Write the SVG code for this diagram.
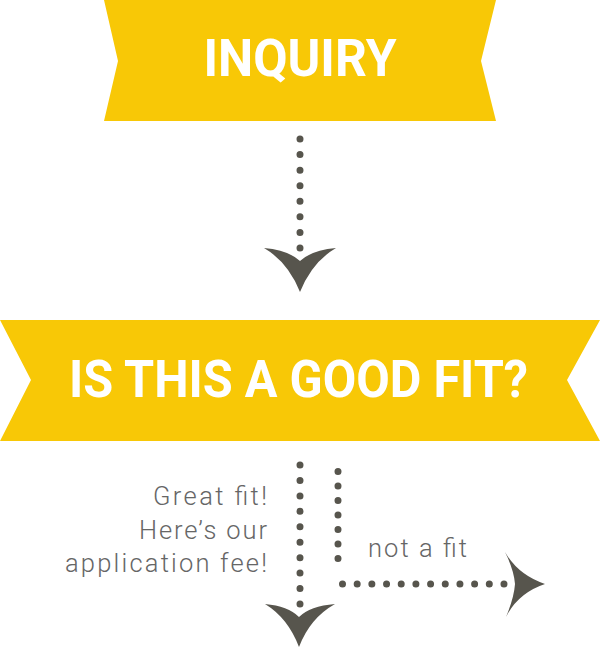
<svg xmlns="http://www.w3.org/2000/svg" width="600" height="648" viewBox="0 0 600 648">
  <style>
    .banner { fill: #F8C806; }
    .title { font-family: Roboto, "DejaVu Sans", sans-serif; font-weight: 700; font-size: 52px; fill: #FFFFFF; }
    .label { font-family: Roboto, "DejaVu Sans", sans-serif; font-weight: 300; font-size: 25.5px; fill: #666666; }
    .dots { fill: none; stroke: #57554D; stroke-width: 7; stroke-linecap: round; }
    .head { fill: #57554D; }
  </style>
  <rect width="600" height="648" fill="#FFFFFF"/>
  <g id="node-inquiry">
    <polygon class="banner" points="104,0 496,0 481,61 496,121 104,121 118,61"/>
    <text class="title" x="300" y="76" text-anchor="middle" textLength="193" lengthAdjust="spacingAndGlyphs">INQUIRY</text>
  </g>
  <g id="node-fit">
    <polygon class="banner" points="0,320 600,320 567,380 600,441 0,441 31,380"/>
    <text class="title" x="298.5" y="397" text-anchor="middle" textLength="459" lengthAdjust="spacingAndGlyphs">IS THIS A GOOD FIT?</text>
  </g>
  <g id="connectors">
    <path class="dots" d="M300,139 V248" stroke-dasharray="0 15.57"/>
    <path class="head" d="M264,248 Q288,250 300,261 Q312,250 336,248 Q312,262 300,292 Q288,262 264,248 Z"/>
    <path class="dots" d="M300,465 V604" stroke-dasharray="0 15.44"/>
    <path class="head" d="M265,604 Q288,606 299,617 Q310,606 335,604 Q310,618 299,647 Q288,618 265,604 Z"/>
    <path class="dots" d="M338,471.5 V573" stroke-dasharray="0 14.5"/>
    <path class="dots" d="M342.5,584 H504" stroke-dasharray="0 14.68"/>
    <path class="head" d="M505,552 Q518,575 545,584 Q518,593 506,617 Q514,598 515,584 Q514,570 505,552 Z"/>
  </g>
  <g id="labels">
    <text class="label" x="153" y="505" textLength="114" lengthAdjust="spacing">Great fit!</text>
    <text class="label" x="139" y="539" textLength="128" lengthAdjust="spacing">Here’s our</text>
    <text class="label" x="65" y="572" textLength="202" lengthAdjust="spacing">application fee!</text>
    <text class="label" x="368" y="557" textLength="99" lengthAdjust="spacing">not a fit</text>
  </g>
</svg>
